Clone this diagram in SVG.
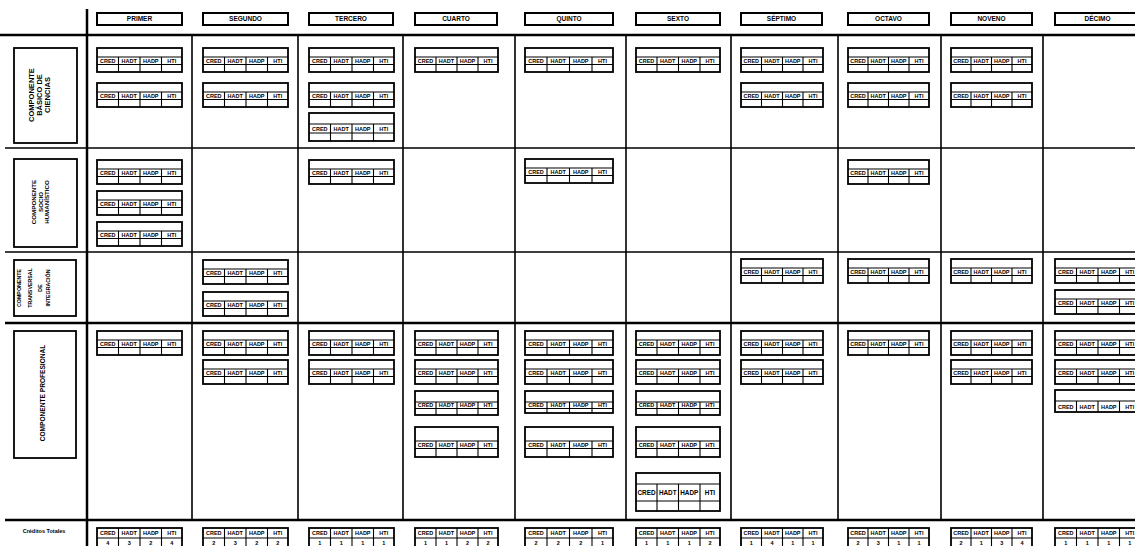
<svg xmlns="http://www.w3.org/2000/svg" width="1135" height="546" viewBox="0 0 1135 546">
<style>
text{font-family:"Liberation Sans",Arial,sans-serif;font-weight:bold;fill:#000}
.hd rect{fill:#fff;stroke:#000;stroke-width:2}
.hd text{font-size:6.5px;text-anchor:middle}
.lb rect{fill:#fff;stroke:#000;stroke-width:1.8}
.lb text{text-anchor:middle}
.card rect{fill:#fff;stroke:#000;stroke-width:1.8}
.card path{fill:none;stroke:#000;stroke-width:1.1}
.card text{font-size:5.5px;text-anchor:middle}
.big text{font-size:6.4px}
.g{fill:none;stroke:#000}
</style>
<rect width="1135" height="546" fill="#fff"/>
<g id="grid">
<path class="g" stroke-width="2.5" d="M87 9V546M0 35H1135"/>
<path class="g" stroke-width="1.3" d="M5 148H1135M5 252H1135"/>
<path class="g" stroke-width="2.3" d="M5 323H1135M5 520H1135"/>
<path class="g" stroke-width="1.6" d="M192 35V520M298 35V520M403 35V520M515 35V520M626 35V520M731 35V520M838 35V520M941 35V520M1043 35V520"/>
</g>
<g id="headers" class="hd">
<g id="h1"><rect x="97" y="13" width="85" height="12"/><text x="139.5" y="21.2">PRIMER</text></g>
<g id="h2"><rect x="203" y="13" width="85" height="12"/><text x="245.5" y="21.2">SEGUNDO</text></g>
<g id="h3"><rect x="309" y="13" width="84" height="12"/><text x="351" y="21.2">TERCERO</text></g>
<g id="h4"><rect x="415" y="13" width="82" height="12"/><text x="456" y="21.2">CUARTO</text></g>
<g id="h5"><rect x="525" y="13" width="88" height="12"/><text x="569" y="21.2">QUINTO</text></g>
<g id="h6"><rect x="636" y="13" width="84" height="12"/><text x="678" y="21.2">SEXTO</text></g>
<g id="h7"><rect x="741" y="13" width="81" height="12"/><text x="781.5" y="21.2">SÉPTIMO</text></g>
<g id="h8"><rect x="848" y="13" width="81" height="12"/><text x="888.5" y="21.2">OCTAVO</text></g>
<g id="h9"><rect x="951" y="13" width="81" height="12"/><text x="991.5" y="21.2">NOVENO</text></g>
<g id="h10"><rect x="1055" y="13" width="85" height="12"/><text x="1097.5" y="21.2">DÉCIMO</text></g>
</g>
<g id="labels" class="lb">
<g id="lb1"><rect x="14" y="48" width="63" height="95"/><text transform="translate(45,95) rotate(-90)" font-size="7.5"><tspan x="0" y="-11">COMPONENTE</tspan><tspan x="0" y="-3">BÁSICO DE</tspan><tspan x="0" y="5">CIENCIAS</tspan></text></g>
<g id="lb2"><rect x="14" y="159" width="63" height="88"/><text transform="translate(45,202) rotate(-90)" font-size="6.2"><tspan x="0" y="-9">COMPONENTE</tspan><tspan x="0" y="-2.5">SOCIO</tspan><tspan x="0" y="4">HUMANÍSTICO</tspan></text></g>
<g id="lb3"><rect x="14" y="260" width="62" height="56"/><text transform="translate(36,288) rotate(-90)" font-size="5.3"><tspan x="0" y="-15">COMPONENTE</tspan><tspan x="0" y="-4">TRANSVERSAL</tspan><tspan x="0" y="6">DE</tspan><tspan x="0" y="14">INTEGRACIÓN</tspan></text></g>
<g id="lb4"><rect x="14" y="331" width="62" height="127"/><text transform="translate(45,393) rotate(-90)" font-size="6.6"><tspan x="0" y="0">COMPONENTE PROFESIONAL</tspan></text></g>
<g id="lb5"><text x="44" y="533" font-size="5.5">Créditos Totales</text></g>
</g>
<g id="cards">
<g id="r1c1a" class="card" transform="translate(97,48)"><rect width="85" height="24"/><path d="M0 9H85M0 16.5H85M21.5 9V24M43 9V24M64.5 9V24"/><text x="10.75" y="15">CRED</text><text x="32.25" y="15">HADT</text><text x="53.75" y="15">HADP</text><text x="74.75" y="15">HTI</text></g>
<g id="r1c1b" class="card" transform="translate(97,83)"><rect width="85" height="24"/><path d="M0 9H85M0 16.5H85M21.5 9V24M43 9V24M64.5 9V24"/><text x="10.75" y="15">CRED</text><text x="32.25" y="15">HADT</text><text x="53.75" y="15">HADP</text><text x="74.75" y="15">HTI</text></g>
<g id="r1c2a" class="card" transform="translate(203,48)"><rect width="85" height="24"/><path d="M0 9H85M0 16.5H85M21.5 9V24M43 9V24M64.5 9V24"/><text x="10.75" y="15">CRED</text><text x="32.25" y="15">HADT</text><text x="53.75" y="15">HADP</text><text x="74.75" y="15">HTI</text></g>
<g id="r1c2b" class="card" transform="translate(203,83)"><rect width="85" height="24"/><path d="M0 9H85M0 16.5H85M21.5 9V24M43 9V24M64.5 9V24"/><text x="10.75" y="15">CRED</text><text x="32.25" y="15">HADT</text><text x="53.75" y="15">HADP</text><text x="74.75" y="15">HTI</text></g>
<g id="r1c3a" class="card" transform="translate(309,48)"><rect width="85" height="24"/><path d="M0 9H85M0 16.5H85M21.5 9V24M43 9V24M64.5 9V24"/><text x="10.75" y="15">CRED</text><text x="32.25" y="15">HADT</text><text x="53.75" y="15">HADP</text><text x="74.75" y="15">HTI</text></g>
<g id="r1c3b" class="card" transform="translate(309,83)"><rect width="85" height="24"/><path d="M0 9H85M0 16.5H85M21.5 9V24M43 9V24M64.5 9V24"/><text x="10.75" y="15">CRED</text><text x="32.25" y="15">HADT</text><text x="53.75" y="15">HADP</text><text x="74.75" y="15">HTI</text></g>
<g id="r1c3c" class="card" transform="translate(309,113)"><rect width="85" height="28"/><path d="M0 11H85M0 20H85M21.5 11V28M43 11V28M64.5 11V28"/><text x="10.75" y="17.5">CRED</text><text x="32.25" y="17.5">HADT</text><text x="53.75" y="17.5">HADP</text><text x="74.75" y="17.5">HTI</text></g>
<g id="r1c4a" class="card" transform="translate(415,48)"><rect width="83" height="24"/><path d="M0 9H83M0 16.5H83M21 9V24M42 9V24M63 9V24"/><text x="10.5" y="15">CRED</text><text x="31.5" y="15">HADT</text><text x="52.5" y="15">HADP</text><text x="73" y="15">HTI</text></g>
<g id="r1c5a" class="card" transform="translate(525,48)"><rect width="88" height="24"/><path d="M0 9H88M0 16.5H88M22 9V24M44.5 9V24M67 9V24"/><text x="11" y="15">CRED</text><text x="33.25" y="15">HADT</text><text x="55.75" y="15">HADP</text><text x="77.5" y="15">HTI</text></g>
<g id="r1c6a" class="card" transform="translate(636,48)"><rect width="84" height="24"/><path d="M0 9H84M0 16.5H84M21 9V24M42.5 9V24M64 9V24"/><text x="10.5" y="15">CRED</text><text x="31.75" y="15">HADT</text><text x="53.25" y="15">HADP</text><text x="74" y="15">HTI</text></g>
<g id="r1c7a" class="card" transform="translate(741,48)"><rect width="82" height="24"/><path d="M0 9H82M0 16.5H82M20.5 9V24M41.5 9V24M62 9V24"/><text x="10.25" y="15">CRED</text><text x="31" y="15">HADT</text><text x="51.75" y="15">HADP</text><text x="72" y="15">HTI</text></g>
<g id="r1c7b" class="card" transform="translate(741,83)"><rect width="82" height="24"/><path d="M0 9H82M0 16.5H82M20.5 9V24M41.5 9V24M62 9V24"/><text x="10.25" y="15">CRED</text><text x="31" y="15">HADT</text><text x="51.75" y="15">HADP</text><text x="72" y="15">HTI</text></g>
<g id="r1c8a" class="card" transform="translate(848,48)"><rect width="81" height="24"/><path d="M0 9H81M0 16.5H81M20 9V24M40.5 9V24M61 9V24"/><text x="10" y="15">CRED</text><text x="30.25" y="15">HADT</text><text x="50.75" y="15">HADP</text><text x="71" y="15">HTI</text></g>
<g id="r1c8b" class="card" transform="translate(848,83)"><rect width="81" height="24"/><path d="M0 9H81M0 16.5H81M20 9V24M40.5 9V24M61 9V24"/><text x="10" y="15">CRED</text><text x="30.25" y="15">HADT</text><text x="50.75" y="15">HADP</text><text x="71" y="15">HTI</text></g>
<g id="r1c9a" class="card" transform="translate(951,48)"><rect width="81" height="24"/><path d="M0 9H81M0 16.5H81M20 9V24M40.5 9V24M61 9V24"/><text x="10" y="15">CRED</text><text x="30.25" y="15">HADT</text><text x="50.75" y="15">HADP</text><text x="71" y="15">HTI</text></g>
<g id="r1c9b" class="card" transform="translate(951,83)"><rect width="81" height="24"/><path d="M0 9H81M0 16.5H81M20 9V24M40.5 9V24M61 9V24"/><text x="10" y="15">CRED</text><text x="30.25" y="15">HADT</text><text x="50.75" y="15">HADP</text><text x="71" y="15">HTI</text></g>
<g id="r2c1a" class="card" transform="translate(97,160)"><rect width="85" height="24"/><path d="M0 9H85M0 16.5H85M21.5 9V24M43 9V24M64.5 9V24"/><text x="10.75" y="15">CRED</text><text x="32.25" y="15">HADT</text><text x="53.75" y="15">HADP</text><text x="74.75" y="15">HTI</text></g>
<g id="r2c1b" class="card" transform="translate(97,191)"><rect width="85" height="24"/><path d="M0 9H85M0 16.5H85M21.5 9V24M43 9V24M64.5 9V24"/><text x="10.75" y="15">CRED</text><text x="32.25" y="15">HADT</text><text x="53.75" y="15">HADP</text><text x="74.75" y="15">HTI</text></g>
<g id="r2c1c" class="card" transform="translate(97,222)"><rect width="85" height="24"/><path d="M0 9H85M0 16.5H85M21.5 9V24M43 9V24M64.5 9V24"/><text x="10.75" y="15">CRED</text><text x="32.25" y="15">HADT</text><text x="53.75" y="15">HADP</text><text x="74.75" y="15">HTI</text></g>
<g id="r2c3a" class="card" transform="translate(309,160)"><rect width="85" height="24"/><path d="M0 9H85M0 16.5H85M21.5 9V24M43 9V24M64.5 9V24"/><text x="10.75" y="15">CRED</text><text x="32.25" y="15">HADT</text><text x="53.75" y="15">HADP</text><text x="74.75" y="15">HTI</text></g>
<g id="r2c5a" class="card" transform="translate(525,159)"><rect width="88" height="24"/><path d="M0 9H88M0 16.5H88M22 9V24M44.5 9V24M67 9V24"/><text x="11" y="15">CRED</text><text x="33.25" y="15">HADT</text><text x="55.75" y="15">HADP</text><text x="77.5" y="15">HTI</text></g>
<g id="r2c8a" class="card" transform="translate(848,160)"><rect width="81" height="24"/><path d="M0 9H81M0 16.5H81M20 9V24M40.5 9V24M61 9V24"/><text x="10" y="15">CRED</text><text x="30.25" y="15">HADT</text><text x="50.75" y="15">HADP</text><text x="71" y="15">HTI</text></g>
<g id="r3c2a" class="card" transform="translate(203,260)"><rect width="85" height="24"/><path d="M0 9H85M0 16.5H85M21.5 9V24M43 9V24M64.5 9V24"/><text x="10.75" y="15">CRED</text><text x="32.25" y="15">HADT</text><text x="53.75" y="15">HADP</text><text x="74.75" y="15">HTI</text></g>
<g id="r3c2b" class="card" transform="translate(203,292)"><rect width="85" height="24"/><path d="M0 9H85M0 16.5H85M21.5 9V24M43 9V24M64.5 9V24"/><text x="10.75" y="15">CRED</text><text x="32.25" y="15">HADT</text><text x="53.75" y="15">HADP</text><text x="74.75" y="15">HTI</text></g>
<g id="r3c7a" class="card" transform="translate(741,259)"><rect width="82" height="24"/><path d="M0 9H82M0 16.5H82M20.5 9V24M41.5 9V24M62 9V24"/><text x="10.25" y="15">CRED</text><text x="31" y="15">HADT</text><text x="51.75" y="15">HADP</text><text x="72" y="15">HTI</text></g>
<g id="r3c8a" class="card" transform="translate(848,259)"><rect width="81" height="24"/><path d="M0 9H81M0 16.5H81M20 9V24M40.5 9V24M61 9V24"/><text x="10" y="15">CRED</text><text x="30.25" y="15">HADT</text><text x="50.75" y="15">HADP</text><text x="71" y="15">HTI</text></g>
<g id="r3c9a" class="card" transform="translate(951,259)"><rect width="81" height="24"/><path d="M0 9H81M0 16.5H81M20 9V24M40.5 9V24M61 9V24"/><text x="10" y="15">CRED</text><text x="30.25" y="15">HADT</text><text x="50.75" y="15">HADP</text><text x="71" y="15">HTI</text></g>
<g id="r3c10a" class="card" transform="translate(1055,259)"><rect width="85" height="24"/><path d="M0 9H85M0 16.5H85M21.5 9V24M43 9V24M64.5 9V24"/><text x="10.75" y="15">CRED</text><text x="32.25" y="15">HADT</text><text x="53.75" y="15">HADP</text><text x="74.75" y="15">HTI</text></g>
<g id="r3c10b" class="card" transform="translate(1055,290)"><rect width="85" height="24"/><path d="M0 9H85M0 16.5H85M21.5 9V24M43 9V24M64.5 9V24"/><text x="10.75" y="15">CRED</text><text x="32.25" y="15">HADT</text><text x="53.75" y="15">HADP</text><text x="74.75" y="15">HTI</text></g>
<g id="r4c1a" class="card" transform="translate(97,331)"><rect width="85" height="24"/><path d="M0 9H85M0 16.5H85M21.5 9V24M43 9V24M64.5 9V24"/><text x="10.75" y="15">CRED</text><text x="32.25" y="15">HADT</text><text x="53.75" y="15">HADP</text><text x="74.75" y="15">HTI</text></g>
<g id="r4c2a" class="card" transform="translate(203,331)"><rect width="85" height="24"/><path d="M0 9H85M0 16.5H85M21.5 9V24M43 9V24M64.5 9V24"/><text x="10.75" y="15">CRED</text><text x="32.25" y="15">HADT</text><text x="53.75" y="15">HADP</text><text x="74.75" y="15">HTI</text></g>
<g id="r4c2b" class="card" transform="translate(203,360)"><rect width="85" height="24"/><path d="M0 9H85M0 16.5H85M21.5 9V24M43 9V24M64.5 9V24"/><text x="10.75" y="15">CRED</text><text x="32.25" y="15">HADT</text><text x="53.75" y="15">HADP</text><text x="74.75" y="15">HTI</text></g>
<g id="r4c3a" class="card" transform="translate(309,331)"><rect width="85" height="24"/><path d="M0 9H85M0 16.5H85M21.5 9V24M43 9V24M64.5 9V24"/><text x="10.75" y="15">CRED</text><text x="32.25" y="15">HADT</text><text x="53.75" y="15">HADP</text><text x="74.75" y="15">HTI</text></g>
<g id="r4c3b" class="card" transform="translate(309,360)"><rect width="85" height="24"/><path d="M0 9H85M0 16.5H85M21.5 9V24M43 9V24M64.5 9V24"/><text x="10.75" y="15">CRED</text><text x="32.25" y="15">HADT</text><text x="53.75" y="15">HADP</text><text x="74.75" y="15">HTI</text></g>
<g id="r4c4a" class="card" transform="translate(415,331)"><rect width="83" height="24"/><path d="M0 9H83M0 16.5H83M21 9V24M42 9V24M63 9V24"/><text x="10.5" y="15">CRED</text><text x="31.5" y="15">HADT</text><text x="52.5" y="15">HADP</text><text x="73" y="15">HTI</text></g>
<g id="r4c4b" class="card" transform="translate(415,360)"><rect width="83" height="24"/><path d="M0 9H83M0 16.5H83M21 9V24M42 9V24M63 9V24"/><text x="10.5" y="15">CRED</text><text x="31.5" y="15">HADT</text><text x="52.5" y="15">HADP</text><text x="73" y="15">HTI</text></g>
<g id="r4c4c" class="card" transform="translate(415,391)"><rect width="83" height="24"/><path d="M0 11H83M0 17.5H83M21 11V24M42 11V24M63 11V24"/><text x="10.5" y="16.3">CRED</text><text x="31.5" y="16.3">HADT</text><text x="52.5" y="16.3">HADP</text><text x="73" y="16.3">HTI</text></g>
<g id="r4c4d" class="card" transform="translate(415,427)"><rect width="83" height="30"/><path d="M0 14H83M0 21.5H83M21 14V30M42 14V30M63 14V30"/><text x="10.5" y="20">CRED</text><text x="31.5" y="20">HADT</text><text x="52.5" y="20">HADP</text><text x="73" y="20">HTI</text></g>
<g id="r4c5a" class="card" transform="translate(525,331)"><rect width="88" height="24"/><path d="M0 9H88M0 16.5H88M22 9V24M44.5 9V24M67 9V24"/><text x="11" y="15">CRED</text><text x="33.25" y="15">HADT</text><text x="55.75" y="15">HADP</text><text x="77.5" y="15">HTI</text></g>
<g id="r4c5b" class="card" transform="translate(525,360)"><rect width="88" height="24"/><path d="M0 9H88M0 16.5H88M22 9V24M44.5 9V24M67 9V24"/><text x="11" y="15">CRED</text><text x="33.25" y="15">HADT</text><text x="55.75" y="15">HADP</text><text x="77.5" y="15">HTI</text></g>
<g id="r4c5c" class="card" transform="translate(525,391)"><rect width="88" height="22"/><path d="M0 11H88M0 17.5H88M22 11V22M44.5 11V22M67 11V22"/><text x="11" y="16.3">CRED</text><text x="33.25" y="16.3">HADT</text><text x="55.75" y="16.3">HADP</text><text x="77.5" y="16.3">HTI</text></g>
<g id="r4c5d" class="card" transform="translate(525,427)"><rect width="88" height="30"/><path d="M0 14H88M0 21.5H88M22 14V30M44.5 14V30M67 14V30"/><text x="11" y="20">CRED</text><text x="33.25" y="20">HADT</text><text x="55.75" y="20">HADP</text><text x="77.5" y="20">HTI</text></g>
<g id="r4c6a" class="card" transform="translate(636,331)"><rect width="84" height="24"/><path d="M0 9H84M0 16.5H84M21 9V24M42.5 9V24M64 9V24"/><text x="10.5" y="15">CRED</text><text x="31.75" y="15">HADT</text><text x="53.25" y="15">HADP</text><text x="74" y="15">HTI</text></g>
<g id="r4c6b" class="card" transform="translate(636,360)"><rect width="84" height="24"/><path d="M0 9H84M0 16.5H84M21 9V24M42.5 9V24M64 9V24"/><text x="10.5" y="15">CRED</text><text x="31.75" y="15">HADT</text><text x="53.25" y="15">HADP</text><text x="74" y="15">HTI</text></g>
<g id="r4c6c" class="card" transform="translate(636,391)"><rect width="84" height="24"/><path d="M0 11H84M0 17.5H84M21 11V24M42.5 11V24M64 11V24"/><text x="10.5" y="16.3">CRED</text><text x="31.75" y="16.3">HADT</text><text x="53.25" y="16.3">HADP</text><text x="74" y="16.3">HTI</text></g>
<g id="r4c6d" class="card" transform="translate(636,427)"><rect width="84" height="30"/><path d="M0 14H84M0 21.5H84M21 14V30M42.5 14V30M64 14V30"/><text x="10.5" y="20">CRED</text><text x="31.75" y="20">HADT</text><text x="53.25" y="20">HADP</text><text x="74" y="20">HTI</text></g>
<g id="r4c6e" class="card big" transform="translate(636,473)"><rect width="84" height="38"/><path d="M0 11H84M0 28H84M21 11V38M42.5 11V38M64 11V38"/><text x="10.5" y="22">CRED</text><text x="31.75" y="22">HADT</text><text x="53.25" y="22">HADP</text><text x="74" y="22">HTI</text></g>
<g id="r4c7a" class="card" transform="translate(741,331)"><rect width="82" height="24"/><path d="M0 9H82M0 16.5H82M20.5 9V24M41.5 9V24M62 9V24"/><text x="10.25" y="15">CRED</text><text x="31" y="15">HADT</text><text x="51.75" y="15">HADP</text><text x="72" y="15">HTI</text></g>
<g id="r4c7b" class="card" transform="translate(741,360)"><rect width="82" height="24"/><path d="M0 9H82M0 16.5H82M20.5 9V24M41.5 9V24M62 9V24"/><text x="10.25" y="15">CRED</text><text x="31" y="15">HADT</text><text x="51.75" y="15">HADP</text><text x="72" y="15">HTI</text></g>
<g id="r4c8a" class="card" transform="translate(848,331)"><rect width="81" height="24"/><path d="M0 9H81M0 16.5H81M20 9V24M40.5 9V24M61 9V24"/><text x="10" y="15">CRED</text><text x="30.25" y="15">HADT</text><text x="50.75" y="15">HADP</text><text x="71" y="15">HTI</text></g>
<g id="r4c9a" class="card" transform="translate(951,331)"><rect width="81" height="24"/><path d="M0 9H81M0 16.5H81M20 9V24M40.5 9V24M61 9V24"/><text x="10" y="15">CRED</text><text x="30.25" y="15">HADT</text><text x="50.75" y="15">HADP</text><text x="71" y="15">HTI</text></g>
<g id="r4c9b" class="card" transform="translate(951,360)"><rect width="81" height="24"/><path d="M0 9H81M0 16.5H81M20 9V24M40.5 9V24M61 9V24"/><text x="10" y="15">CRED</text><text x="30.25" y="15">HADT</text><text x="50.75" y="15">HADP</text><text x="71" y="15">HTI</text></g>
<g id="r4c10a" class="card" transform="translate(1055,331)"><rect width="85" height="24"/><path d="M0 9H85M0 16.5H85M21.5 9V24M43 9V24M64.5 9V24"/><text x="10.75" y="15">CRED</text><text x="32.25" y="15">HADT</text><text x="53.75" y="15">HADP</text><text x="74.75" y="15">HTI</text></g>
<g id="r4c10b" class="card" transform="translate(1055,360)"><rect width="85" height="24"/><path d="M0 9H85M0 16.5H85M21.5 9V24M43 9V24M64.5 9V24"/><text x="10.75" y="15">CRED</text><text x="32.25" y="15">HADT</text><text x="53.75" y="15">HADP</text><text x="74.75" y="15">HTI</text></g>
<g id="r4c10c" class="card" transform="translate(1055,390)"><rect width="85" height="22"/><path d="M0 11H85M21.5 11V22M43 11V22M64.5 11V22"/><text x="10.75" y="18.5">CRED</text><text x="32.25" y="18.5">HADT</text><text x="53.75" y="18.5">HADP</text><text x="74.75" y="18.5">HTI</text></g>
<g id="t1" class="card" transform="translate(97,528)"><rect width="85" height="24"/><path d="M0 10H85M21.5 0V24M43 0V24M64.5 0V24"/><text x="10.75" y="7">CRED</text><text x="32.25" y="7">HADT</text><text x="53.75" y="7">HADP</text><text x="74.75" y="7">HTI</text><text x="10.75" y="17">4</text><text x="32.25" y="17">3</text><text x="53.75" y="17">2</text><text x="74.75" y="17">4</text></g>
<g id="t2" class="card" transform="translate(203,528)"><rect width="85" height="24"/><path d="M0 10H85M21.5 0V24M43 0V24M64.5 0V24"/><text x="10.75" y="7">CRED</text><text x="32.25" y="7">HADT</text><text x="53.75" y="7">HADP</text><text x="74.75" y="7">HTI</text><text x="10.75" y="17">2</text><text x="32.25" y="17">3</text><text x="53.75" y="17">2</text><text x="74.75" y="17">2</text></g>
<g id="t3" class="card" transform="translate(309,528)"><rect width="85" height="24"/><path d="M0 10H85M21.5 0V24M43 0V24M64.5 0V24"/><text x="10.75" y="7">CRED</text><text x="32.25" y="7">HADT</text><text x="53.75" y="7">HADP</text><text x="74.75" y="7">HTI</text><text x="10.75" y="17">1</text><text x="32.25" y="17">1</text><text x="53.75" y="17">1</text><text x="74.75" y="17">1</text></g>
<g id="t4" class="card" transform="translate(415,528)"><rect width="83" height="24"/><path d="M0 10H83M21 0V24M42 0V24M63 0V24"/><text x="10.5" y="7">CRED</text><text x="31.5" y="7">HADT</text><text x="52.5" y="7">HADP</text><text x="73" y="7">HTI</text><text x="10.5" y="17">1</text><text x="31.5" y="17">1</text><text x="52.5" y="17">2</text><text x="73" y="17">2</text></g>
<g id="t5" class="card" transform="translate(525,528)"><rect width="88" height="24"/><path d="M0 10H88M22 0V24M44.5 0V24M67 0V24"/><text x="11" y="7">CRED</text><text x="33.25" y="7">HADT</text><text x="55.75" y="7">HADP</text><text x="77.5" y="7">HTI</text><text x="11" y="17">2</text><text x="33.25" y="17">2</text><text x="55.75" y="17">2</text><text x="77.5" y="17">1</text></g>
<g id="t6" class="card" transform="translate(636,528)"><rect width="84" height="24"/><path d="M0 10H84M21 0V24M42.5 0V24M64 0V24"/><text x="10.5" y="7">CRED</text><text x="31.75" y="7">HADT</text><text x="53.25" y="7">HADP</text><text x="74" y="7">HTI</text><text x="10.5" y="17">1</text><text x="31.75" y="17">1</text><text x="53.25" y="17">1</text><text x="74" y="17">2</text></g>
<g id="t7" class="card" transform="translate(741,528)"><rect width="82" height="24"/><path d="M0 10H82M20.5 0V24M41.5 0V24M62 0V24"/><text x="10.25" y="7">CRED</text><text x="31" y="7">HADT</text><text x="51.75" y="7">HADP</text><text x="72" y="7">HTI</text><text x="10.25" y="17">1</text><text x="31" y="17">4</text><text x="51.75" y="17">1</text><text x="72" y="17">1</text></g>
<g id="t8" class="card" transform="translate(848,528)"><rect width="81" height="24"/><path d="M0 10H81M20 0V24M40.5 0V24M61 0V24"/><text x="10" y="7">CRED</text><text x="30.25" y="7">HADT</text><text x="50.75" y="7">HADP</text><text x="71" y="7">HTI</text><text x="10" y="17">2</text><text x="30.25" y="17">3</text><text x="50.75" y="17">1</text><text x="71" y="17">1</text></g>
<g id="t9" class="card" transform="translate(951,528)"><rect width="81" height="24"/><path d="M0 10H81M20 0V24M40.5 0V24M61 0V24"/><text x="10" y="7">CRED</text><text x="30.25" y="7">HADT</text><text x="50.75" y="7">HADP</text><text x="71" y="7">HTI</text><text x="10" y="17">2</text><text x="30.25" y="17">1</text><text x="50.75" y="17">3</text><text x="71" y="17">4</text></g>
<g id="t10" class="card" transform="translate(1055,528)"><rect width="85" height="24"/><path d="M0 10H85M21.5 0V24M43 0V24M64.5 0V24"/><text x="10.75" y="7">CRED</text><text x="32.25" y="7">HADT</text><text x="53.75" y="7">HADP</text><text x="74.75" y="7">HTI</text><text x="10.75" y="17">1</text><text x="32.25" y="17">1</text><text x="53.75" y="17">1</text><text x="74.75" y="17">1</text></g>
</g>
</svg>
